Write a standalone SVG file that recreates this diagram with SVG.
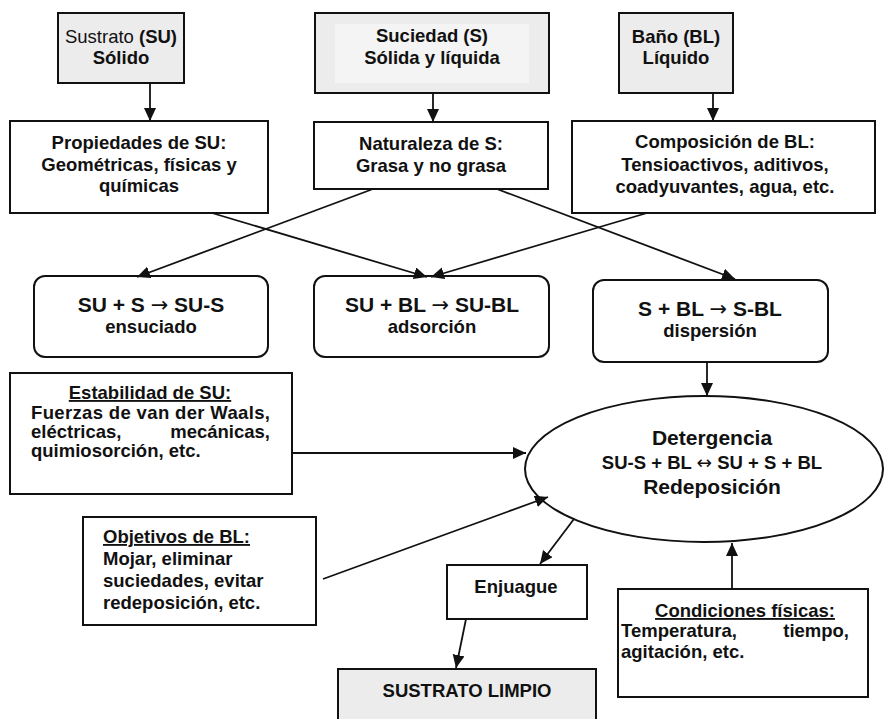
<svg xmlns="http://www.w3.org/2000/svg" width="888" height="719" viewBox="0 0 888 719">
<style>
text{font-family:"Liberation Sans",Arial,sans-serif;font-weight:bold;font-size:18.5px;fill:#111}
.c{text-anchor:middle}
.e{text-anchor:end}
.n{font-weight:normal}
.big{font-size:21px}
.ar{font-family:"DejaVu Sans",sans-serif;font-weight:normal}
.u{text-decoration:underline}
.box{fill:#fff;stroke:#111;stroke-width:2}
.g{fill:#ececec;stroke:#111;stroke-width:2}
.r{fill:#fff;stroke:#111;stroke-width:2}
.a{stroke:#111;stroke-width:1.8;fill:none;marker-end:url(#ah)}
</style>
<defs>
<marker id="ah" markerWidth="14" markerHeight="14" refX="13" refY="6" orient="auto" markerUnits="userSpaceOnUse"><path d="M0,0 L13,6 L0,12 z" fill="#111"/></marker>
</defs>
<rect width="888" height="719" fill="#fff"/>
<g id="sustrato"><rect class="g" x="58" y="13" width="126" height="70"/><text class="c" x="121" y="43"><tspan class="n">Sustrato </tspan>(SU)</text><text class="c" x="121" y="64">Sólido</text></g>
<g id="suciedad"><rect class="g" x="315" y="13" width="234" height="80"/><rect x="335" y="24" width="194" height="59" fill="#f4f4f4"/><text class="c" x="432" y="42">Suciedad (S)</text><text class="c" x="432" y="64">Sólida y líquida</text></g>
<g id="bano"><rect class="g" x="619" y="13" width="114" height="80"/><text class="c" x="676" y="43">Baño (BL)</text><text class="c" x="676" y="64">Líquido</text></g>
<g id="propiedades"><rect class="box" x="10" y="121" width="258" height="92"/><text class="c" x="139" y="149">Propiedades de SU:</text><text class="c" x="139" y="170.5">Geométricas, físicas y</text><text class="c" x="139" y="192">químicas</text></g>
<g id="naturaleza"><rect class="box" x="314" y="122" width="234" height="67"/><text class="c" x="431" y="150">Naturaleza de S:</text><text class="c" x="431" y="172">Grasa y no grasa</text></g>
<g id="composicion"><rect class="box" x="572" y="121" width="303" height="92"/><text class="c" x="725" y="148">Composición de BL:</text><text class="c" x="725" y="170.5">Tensioactivos, aditivos,</text><text class="c" x="725" y="193">coadyuvantes, agua, etc.</text></g>
<g id="ensuciado"><rect class="r" x="34" y="276" width="234" height="81" rx="11"/><text class="c big" x="151" y="312">SU + S <tspan class="ar">→</tspan> SU-S</text><text class="c" x="151" y="333">ensuciado</text></g>
<g id="adsorcion"><rect class="r" x="314" y="276" width="235" height="81" rx="11"/><text class="c big" x="432" y="312">SU + BL <tspan class="ar">→</tspan> SU-BL</text><text class="c" x="432" y="333">adsorción</text></g>
<g id="dispersion"><rect class="r" x="593" y="280" width="235" height="82" rx="11"/><text class="c big" x="710" y="316">S + BL <tspan class="ar">→</tspan> S-BL</text><text class="c" x="710" y="337">dispersión</text></g>
<g id="estabilidad"><rect class="box" x="10" y="373" width="282" height="121"/><text class="c u" x="150" y="399">Estabilidad de SU:</text><text x="31" y="419" textLength="239" lengthAdjust="spacing">Fuerzas de van der Waals,</text><text x="31" y="438">eléctricas,</text><text class="e" x="270" y="438">mecánicas,</text><text x="31" y="457">quimiosorción, etc.</text></g>
<g id="detergencia"><ellipse cx="704" cy="469" rx="179" ry="73" fill="#fff" stroke="#111" stroke-width="2"/><text class="c big" x="712" y="445">Detergencia</text><text class="c" x="712" y="469">SU-S + BL <tspan class="ar">↔</tspan> SU + S + BL</text><text class="c big" x="712" y="494">Redeposición</text></g>
<g id="objetivos"><rect class="box" x="83" y="517" width="233" height="108"/><text class="u" x="103" y="543">Objetivos de BL:</text><text x="103" y="565">Mojar, eliminar</text><text x="103" y="587">suciedades, evitar</text><text x="103" y="609">redeposición, etc.</text></g>
<g id="enjuague"><rect class="box" x="447" y="565" width="140" height="54"/><text class="c" x="516" y="593">Enjuague</text></g>
<g id="limpio"><rect class="g" x="338" y="669" width="258" height="60"/><text class="c" x="467" y="697">SUSTRATO LIMPIO</text></g>
<g id="condiciones"><rect class="box" x="618" y="589" width="250" height="108"/><text class="c u" x="745" y="617">Condiciones físicas:</text><text x="621" y="637">Temperatura,</text><text class="e" x="849" y="637">tiempo,</text><text x="621" y="658">agitación, etc.</text></g>
<g id="connectors">
<line class="a" x1="150" y1="83" x2="150" y2="121"/>
<line class="a" x1="433" y1="93" x2="433" y2="122"/>
<line class="a" x1="713" y1="93" x2="713" y2="121"/>
<line class="a" x1="212" y1="213" x2="427" y2="277"/>
<line class="a" x1="373" y1="189" x2="137" y2="277"/>
<line class="a" x1="497" y1="189" x2="735" y2="279"/>
<line class="a" x1="647" y1="213" x2="431" y2="277"/>
<line class="a" x1="707" y1="362" x2="707" y2="396"/>
<line class="a" x1="292" y1="453" x2="526" y2="453"/>
<line class="a" x1="323" y1="579" x2="548" y2="497"/>
<line class="a" x1="574" y1="519" x2="540" y2="564"/>
<line class="a" x1="466" y1="619" x2="456" y2="668"/>
<line class="a" x1="732" y1="589" x2="732" y2="543"/>
</g>
</svg>
